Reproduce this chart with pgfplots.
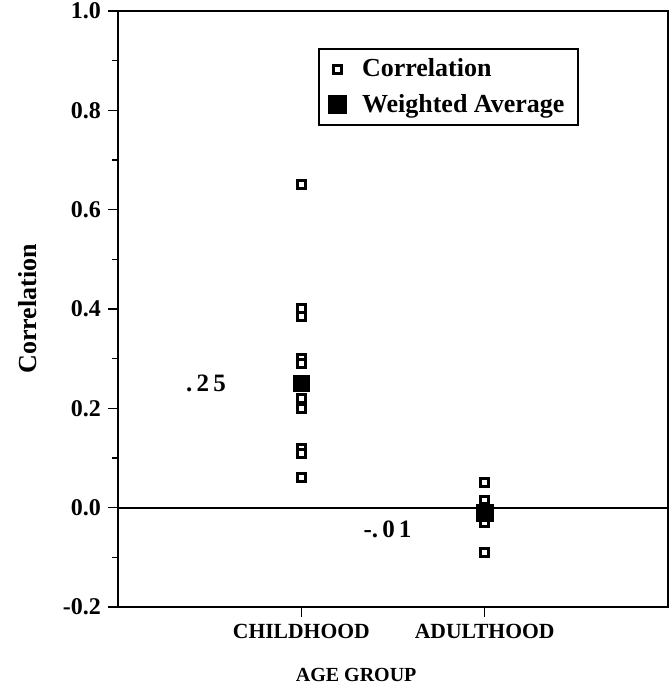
\documentclass[border=0pt]{standalone}
\usepackage{fontspec}
\setmainfont{Liberation Serif}
\usepackage{pgfplots}
\pgfplotsset{compat=1.18}
\begin{document}
\begin{tikzpicture}
\begin{axis}[name=ax, scale only axis, width=275pt, height=298pt,
  xmin=0, xmax=3, ymin=-0.2, ymax=1.0,
  xtick={1,2}, xticklabels={CHILDHOOD,ADULTHOOD},
  ytick={-0.2,0,0.2,0.4,0.6,0.8,1.0},
  minor ytick={-0.1,0.1,0.3,0.5,0.7,0.9},
  yticklabel style={font=\fontsize{12}{14}\bfseries, /pgf/number format/.cd, fixed, fixed zerofill, precision=1, assume math mode=true},
  xticklabel style={font=\fontsize{10.8}{13}\bfseries},
  tick align=outside, major tick length=5pt, minor tick length=3pt,
  xtick pos=bottom, ytick pos=left,
  axis line style={line width=1pt},
  every tick/.style={black, line width=0.8pt},
  xlabel={AGE GROUP}, ylabel={Correlation},
  xlabel style={font=\fontsize{10}{12}\bfseries, at={(axis description cs:0.433,-0.114)}, anchor=center},
  ylabel style={font=\fontsize{13}{15}\bfseries, at={(axis description cs:-0.165,0.5)}, anchor=center},
  clip=false,
  legend style={at={(0.364,0.938)}, anchor=north west, draw=black, line width=1pt,
    font=\fontsize{13}{15}\bfseries, cells={anchor=west}, inner xsep=5pt, inner ysep=3pt,
    row sep=3pt, /tikz/every odd column/.append style={column sep=6pt}},
]
\addplot[forget plot, black, line width=1pt] coordinates {(0,0) (3,0)};
\addplot[only marks, mark=square*, mark size=2pt, mark options={fill=white, draw=black, line width=1.5pt}]
  coordinates {
  (1,0.65) (1,0.40) (1,0.385) (1,0.30) (1,0.29) (1,0.22) (1,0.20) (1,0.12) (1,0.11) (1,0.06)
  (2,0.05) (2,0.015) (2,0.0) (2,-0.03) (2,-0.09)
  };
\addlegendentry{Correlation}
\addplot[only marks, mark=square*, mark size=4.2pt, mark options={fill=black, draw=black}]
  coordinates {(1,0.25) (2,-0.01)};
\addlegendentry{Weighted Average}
\node[font=\fontsize{12.5}{14}\bfseries] at (axis cs:0.48,0.25) {.\,2\,5};
\node[font=\fontsize{12.5}{14}\bfseries] at (axis cs:1.47,-0.044) {-.\,0\,1};
\end{axis}
\pgfresetboundingbox
\path ([shift={(-59pt,-41pt)}]ax.south west) rectangle ([shift={(1pt,5.5pt)}]ax.north east);
\end{tikzpicture}
\end{document}
